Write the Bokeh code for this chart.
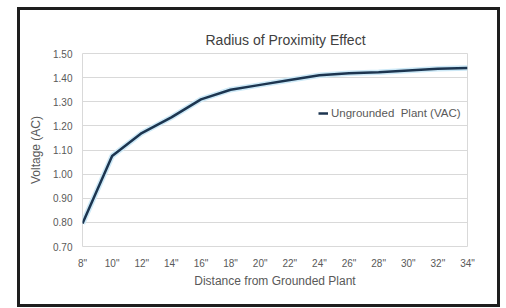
from bokeh.plotting import figure
from bokeh.models import ColumnDataSource, Range1d, FixedTicker, Legend, LegendItem, InlineStyleSheet
from bokeh.embed import file_html
from bokeh.resources import INLINE

# Data
distances = [8, 10, 12, 14, 16, 18, 20, 22, 24, 26, 28, 30, 32, 34]
tick_labels = ['8"', '10"', '12"', '14"', '16"', '18"', '20"', '22"', '24"', '26"', '28"', '30"', '32"', '34"']
voltage = [0.795, 1.075, 1.17, 1.235, 1.31, 1.35, 1.37, 1.39, 1.41, 1.418, 1.422, 1.43, 1.437, 1.44]
y_ticks = [0.70, 0.80, 0.90, 1.00, 1.10, 1.20, 1.30, 1.40, 1.50]
series_name = "Ungrounded  Plant (VAC)"

src = ColumnDataSource(dict(x=distances, y=voltage))

W, H = 506, 308
p = figure(width=W, height=H, output_backend="svg", toolbar_location=None,
           x_range=Range1d(8, 34), y_range=Range1d(0.70, 1.50),
           min_border_left=82, min_border_right=39, min_border_top=53, min_border_bottom=62)

p.background_fill_color = "white"
p.border_fill_color = "white"
p.outline_line_color = "#d9d9d9"
p.outline_line_width = 1

FONT = "Liberation Sans"
GRAY = "#595959"

# Title
p.title.text = "Radius of Proximity Effect"
p.title.align = "left"
p.title.offset = 123
p.title.text_font = FONT
p.title.text_font_size = "14px"
p.title.text_font_style = "normal"
p.title.text_color = "#404040"
p.title.standoff = 12

# Axes
p.xaxis.ticker = FixedTicker(ticks=distances)
p.xaxis.major_label_overrides = {d: lab for d, lab in zip(distances, tick_labels)}
p.yaxis.ticker = FixedTicker(ticks=y_ticks)
p.yaxis.major_label_overrides = {t: f"{t:.2f}" for t in y_ticks}
for ax in (p.xaxis[0], p.yaxis[0]):
    ax.axis_line_color = None
    ax.major_tick_line_color = None
    ax.minor_tick_line_color = None
    ax.major_label_text_font = FONT
    ax.major_label_text_font_size = "10px"
    ax.major_label_text_color = GRAY
    ax.axis_label_text_font = FONT
    ax.axis_label_text_font_size = "12px"
    ax.axis_label_text_font_style = "normal"
    ax.axis_label_text_color = GRAY
p.xaxis.axis_label = "Distance from Grounded Plant"
p.yaxis.axis_label = "Voltage (AC)"
p.xaxis.major_label_standoff = 5
p.xaxis.axis_label_standoff = 2
p.yaxis.major_label_standoff = 4
p.yaxis.axis_label_standoff = 7

p.xgrid.grid_line_color = None
p.ygrid.grid_line_color = "#d9d9d9"
p.ygrid.grid_line_width = 1

# Line with soft halo
p.line("x", "y", source=src, line_color="#cde9f7", line_width=5.5, line_join="round")
r = p.line("x", "y", source=src, line_color="#1c3550", line_width=2.5, line_join="round")

legend = Legend(items=[LegendItem(label=series_name, renderers=[r])],
                location=(236, 127), padding=0, margin=0, spacing=0,
                glyph_width=10, glyph_height=12, label_height=12, label_standoff=3,
                background_fill_alpha=0, border_line_color=None,
                label_text_font=FONT, label_text_font_size="11.5px", label_text_color=GRAY)
p.add_layout(legend)

# Outer chart frame (drawn as a page decoration around the chart)
frame_css = InlineStyleSheet(css="""
:host { position: relative; }
:host::after {
  content: "";
  position: absolute;
  left: 17px; top: 7px;
  width: 483px; height: 300px;
  border: 3px solid #1e1e1e;
  box-sizing: border-box;
  pointer-events: none;
  z-index: 10;
}
""")
p.stylesheets = [frame_css]

open("out.html", "w").write(file_html(p, INLINE))
